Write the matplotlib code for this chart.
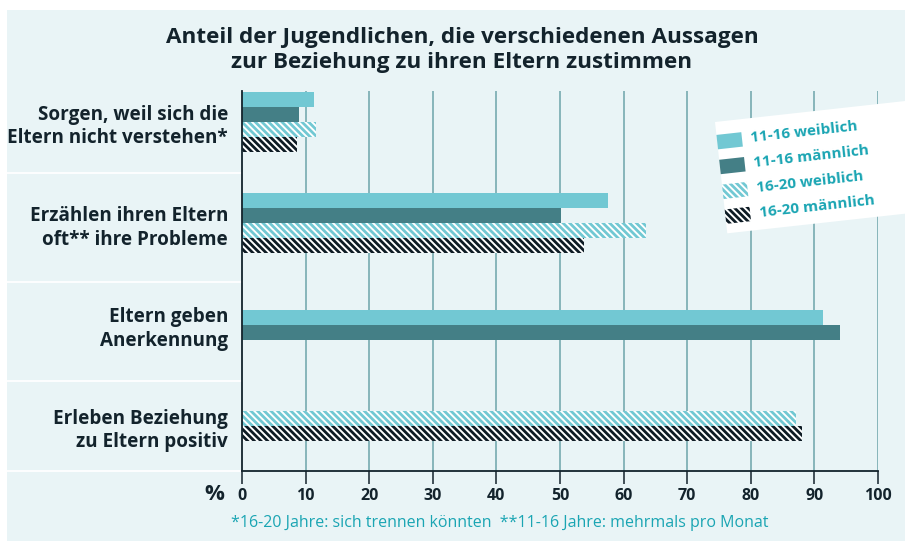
import numpy as np
import matplotlib
matplotlib.use("Agg")
import matplotlib.pyplot as plt
from matplotlib.patches import Rectangle
from matplotlib.transforms import Affine2D, blended_transform_factory

plt.rcParams['font.family'] = ['Open Sans', 'DejaVu Sans']
plt.rcParams['hatch.linewidth'] = 2.0

# data (percent)
categories = ["Sorgen, weil sich die\nEltern nicht verstehen*",
              "Erzählen ihren Eltern\noft** ihre Probleme",
              "Eltern geben\nAnerkennung",
              "Erleben Beziehung\nzu Eltern positiv"]
series_names = ["11-16 weiblich", "11-16 männlich", "16-20 weiblich", "16-20 männlich"]
w_11_16 = [11.3, 57.5, 91.4, np.nan]
m_11_16 = [9.0, 50.2, 94.0, np.nan]
w_16_20 = [11.6, 63.6, np.nan, 87.1]
m_16_20 = [8.6, 53.7, np.nan, 88.0]
xticks = [0, 10, 20, 30, 40, 50, 60, 70, 80, 90, 100]

values = [w_11_16, m_11_16, w_16_20, m_16_20]

# styles
bg = '#e9f4f6'
dark_txt = '#13232c'
teal_txt = '#1aa5b3'
stripes = '\\' * 5
styles = [
    dict(color='#72c8d3', hatch=None),
    dict(color='#447f86', hatch=None),
    dict(color='white', edgecolor='#72c8d3', hatch=stripes),
    dict(color='white', edgecolor='#0d1b24', hatch=stripes),
]

fig = plt.figure(figsize=(9.05, 5.41), dpi=100)
fig.patch.set_facecolor('white')
# light panel behind everything
fig.patches.append(Rectangle((7 / 905, 0), 1, 531 / 541, transform=fig.transFigure,
                             facecolor=bg, edgecolor='none', zorder=-10))

ax = fig.add_axes([242 / 905, 1 - 471 / 541, 636 / 905, 380 / 541])
ax.set_facecolor('none')

h = 0.148
n_groups = len(categories)
# bar positions: centred within each group over the series present
ypos = [[np.nan] * n_groups for _ in values]
extent = []
for g in range(n_groups):
    present = [s for s in range(len(values)) if not np.isnan(values[s][g])]
    n = len(present)
    for k, s in enumerate(present):
        ypos[s][g] = g + (k - (n - 1) / 2) * h
    extent.append((g - n * h / 2, g + n * h / 2))

for s, vals in enumerate(values):
    ys = np.array(ypos[s])
    vs = np.array(vals)
    ok = ~np.isnan(vs)
    st = styles[s]
    ax.barh(ys[ok], vs[ok], height=h, color=st['color'],
            edgecolor=st.get('edgecolor', 'none'), hatch=st['hatch'],
            linewidth=0, zorder=3)

ax.set_xlim(0, 100)
ax.set_ylim(3.444, -0.306)

# grid
for x in xticks[1:]:
    ax.axvline(x, color='#7fb0b5', linewidth=1.3, zorder=1)

for sp in ['top', 'right']:
    ax.spines[sp].set_visible(False)
for sp in ['left', 'bottom']:
    ax.spines[sp].set_color(dark_txt)
    ax.spines[sp].set_linewidth(1.3)
    ax.spines[sp].set_zorder(4)

ax.set_xticks(xticks)
ax.set_xticklabels([str(t) for t in xticks], fontsize=11.5, fontweight='bold', color=dark_txt)
ax.tick_params(axis='x', direction='out', length=9, width=1.1, color=dark_txt, pad=3)

ax.set_yticks(range(n_groups))
ax.set_yticklabels(categories, fontsize=13.6, fontweight='bold', color=dark_txt,
                   linespacing=1.25)
ax.tick_params(axis='y', length=0, pad=10)

# white separators left of the axis
sep_tr = blended_transform_factory(fig.transFigure, ax.transData)
seps = [(extent[g][1] + extent[g + 1][0]) / 2 for g in range(n_groups - 1)] + [3.444]
seps[2] += 0.06
for y in seps:
    ax.plot([7 / 905, 242 / 905], [y, y], color='white', linewidth=1.3,
            transform=sep_tr, clip_on=False, zorder=2)

# title, unit, footnote
fig.text(462 / 905, 1 - 50 / 541,
         "Anteil der Jugendlichen, die verschiedenen Aussagen\nzur Beziehung zu ihren Eltern zustimmen",
         ha='center', va='center', fontsize=16.2, fontweight='bold', color=dark_txt,
         linespacing=1.22)
fig.text(224 / 905, 1 - 495 / 541, "%", ha='right', va='center', fontsize=16,
         fontweight='bold', color=dark_txt)
fig.text(231 / 905, 1 - 523 / 541,
         "*16-20 Jahre: sich trennen könnten  **11-16 Jahre: mehrmals pro Monat",
         ha='left', va='center', fontsize=11.5, color=teal_txt)

# rotated legend (drawn by hand, in inches)
angle = 6.3
leg_tr = Affine2D().rotate_deg(angle).translate(7.15, (541 - 122) / 100) + fig.dpi_scale_trans
fig.patches.append(Rectangle((0, -1.12), 2.2, 1.12, transform=leg_tr,
                             facecolor='white', edgecolor='none', zorder=5))
for i, name in enumerate(series_names):
    st = styles[i]
    top = -0.13 - i * 0.25
    fig.patches.append(Rectangle((0.0, top - 0.145), 0.25, 0.145, transform=leg_tr,
                                 facecolor=st['color'], edgecolor=st.get('edgecolor', 'none'),
                                 hatch=st['hatch'], linewidth=0, zorder=6))
    fig.text(0.34, top - 0.07, name, transform=leg_tr, rotation=angle,
             rotation_mode='anchor', ha='left', va='center', fontsize=11,
             fontweight='bold', color=teal_txt, zorder=7)

fig.savefig("out.png", dpi=100, facecolor='white')
